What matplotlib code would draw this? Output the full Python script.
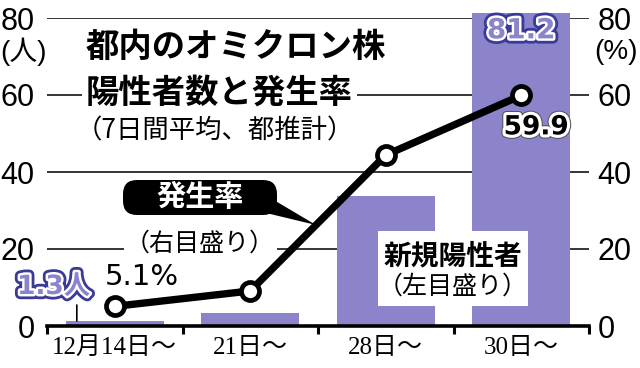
import matplotlib
matplotlib.use("Agg")
import matplotlib.pyplot as plt
from matplotlib.transforms import Affine2D
from matplotlib.patches import FancyBboxPatch, Polygon, Rectangle
import matplotlib.patheffects as pe

# ---- data ----
categories = ['12月14日～', '21日～', '28日～', '30日～']
new_positives = [1.3, 3.4, 33.8, 81.2]      # 新規陽性者 (人, left axis)
incidence_rate = [5.1, 9.1, 44.4, 59.9]     # 発生率 (%, right axis)
y_ticks = [0, 20, 40, 60, 80]

BAR = '#8b84cb'
NAVY = '#3a3a98'
CJK = 'Noto Sans CJK JP'
NUM = ['Liberation Sans Narrow', 'Liberation Sans', CJK]
SERIF = ['Liberation Serif', CJK]

plt.rcParams['font.family'] = [CJK, 'DejaVu Sans']

W, H = 640, 368
fig = plt.figure(figsize=(W / 100, H / 100), dpi=100)
pix = Affine2D().scale(1 / W, -1 / H).translate(0, 1) + fig.transFigure

ax = fig.add_axes([47 / W, 42 / H, 542 / W, 308 / H])
x = list(range(len(categories)))
ax.set_xlim(-0.5, len(categories) - 0.5)
ax.set_ylim(0, 80)

ax.bar(x, new_positives, width=0.72, color=BAR, zorder=2, clip_on=False)
ax.set_yticks(y_ticks)
ax.grid(axis='y', color='black', lw=1.1, zorder=0)
ax.set_axisbelow(True)
ax.tick_params(axis='y', length=0, pad=9)
for t in ax.get_yticklabels():
    t.set_family(NUM)
    t.set_fontsize(22)
ax.set_xticks(x)
ax.set_xticklabels(categories, family=SERIF, fontsize=18)
ax.set_xticks([i - 0.5 for i in range(len(categories) + 1)], minor=True)
ax.tick_params(axis='x', which='major', length=0, pad=8)
ax.tick_params(axis='x', which='minor', length=6, width=2.2, direction='out')
for s in ['top', 'left', 'right']:
    ax.spines[s].set_visible(False)
ax.spines['bottom'].set_linewidth(2.6)

ax2 = ax.twinx()
ax2.set_ylim(0, 80)
ax2.set_yticks(y_ticks)
ax2.tick_params(axis='y', length=0, pad=6)
for t in ax2.get_yticklabels():
    t.set_family(NUM)
    t.set_fontsize(22)
for s in ax2.spines.values():
    s.set_visible(False)
ax2.plot(x, incidence_rate, color='black', lw=5.3, marker='o', ms=13,
         mfc='white', mec='black', mew=3.4, zorder=5, clip_on=False)

# unit labels
fig.text(24, 52, '(人)', transform=pix, ha='center', va='center',
         family=NUM, fontsize=20)
fig.text(616, 52, '(%)', transform=pix, ha='center', va='center',
         family=NUM, fontsize=20)

# value labels
blue_fx = [pe.Stroke(linewidth=7.5, foreground=NAVY),
           pe.Stroke(linewidth=3.5, foreground='white'), pe.Normal()]
ax.annotate(f'{new_positives[3]}', xy=(3, new_positives[3]), xytext=(0, -17),
            textcoords='offset pixels', ha='center', va='center',
            fontsize=20, fontweight='bold', color=BAR, family='DejaVu Sans',
            path_effects=blue_fx, annotation_clip=False, zorder=6)
ax.annotate(f'{new_positives[0]}人', xy=(0, new_positives[0]), xytext=(-61, 34),
            textcoords='offset pixels', ha='center', va='center',
            fontsize=19, fontweight='bold', color=BAR,
            family=['DejaVu Sans', CJK],
            path_effects=blue_fx, annotation_clip=False, zorder=6)
ax.annotate('', xy=(-0.28, new_positives[0]), xytext=(0, 16),
            textcoords='offset pixels',
            arrowprops=dict(arrowstyle='-', color='black', lw=1.2,
                            shrinkA=0, shrinkB=0))
ax2.annotate(f'{incidence_rate[0]}%', xy=(0, incidence_rate[0]), xytext=(27, 29),
             textcoords='offset pixels', ha='center', va='center',
             fontsize=21, family='DejaVu Sans', color='black')
ax2.annotate(f'{incidence_rate[3]}', xy=(3, incidence_rate[3]), xytext=(15, -32),
             textcoords='offset pixels', ha='center', va='center',
             fontsize=19, fontweight='bold', family='DejaVu Sans', color='black',
             path_effects=[pe.Stroke(linewidth=6, foreground='#555555'),
                           pe.Stroke(linewidth=4.5, foreground='white'),
                           pe.Normal()], zorder=6)

# title
wbg = dict(fc='white', ec='none', pad=3)
fig.text(86, 47, '都内のオミクロン株', transform=pix, ha='left', va='center',
         fontsize=24, fontweight='bold', bbox=wbg)
fig.text(86, 93, '陽性者数と発生率', transform=pix, ha='left', va='center',
         fontsize=24, fontweight='bold', bbox=wbg)
fig.text(76, 131, '（7日間平均、都推計）', transform=pix, ha='left', va='center',
         fontsize=19)

# callout for rate
fig.add_artist(Polygon([(262, 193), (262, 212), (316, 225)], closed=True,
                       transform=pix, fc='black', ec='none'))
fig.add_artist(FancyBboxPatch((123, 180), 154, 35,
                              boxstyle='round,pad=0,rounding_size=14',
                              transform=pix, fc='black', ec='none'))
fig.text(200, 197, '発生率', transform=pix, ha='center', va='center',
         fontsize=21, fontweight='bold', color='white')
fig.text(200, 244, '（右目盛り）', transform=pix, ha='center', va='center',
         fontsize=18, bbox=dict(fc='white', ec='none', pad=1))

# callout for positives
fig.add_artist(Rectangle((378, 231), 150, 75, transform=pix, fc='white', ec='none'))
fig.text(453, 256, '新規陽性者', transform=pix, ha='center', va='center',
         fontsize=20, fontweight='bold')
fig.text(453, 287, '（左目盛り）', transform=pix, ha='center', va='center',
         fontsize=18)

fig.savefig('out.png', dpi=100)
